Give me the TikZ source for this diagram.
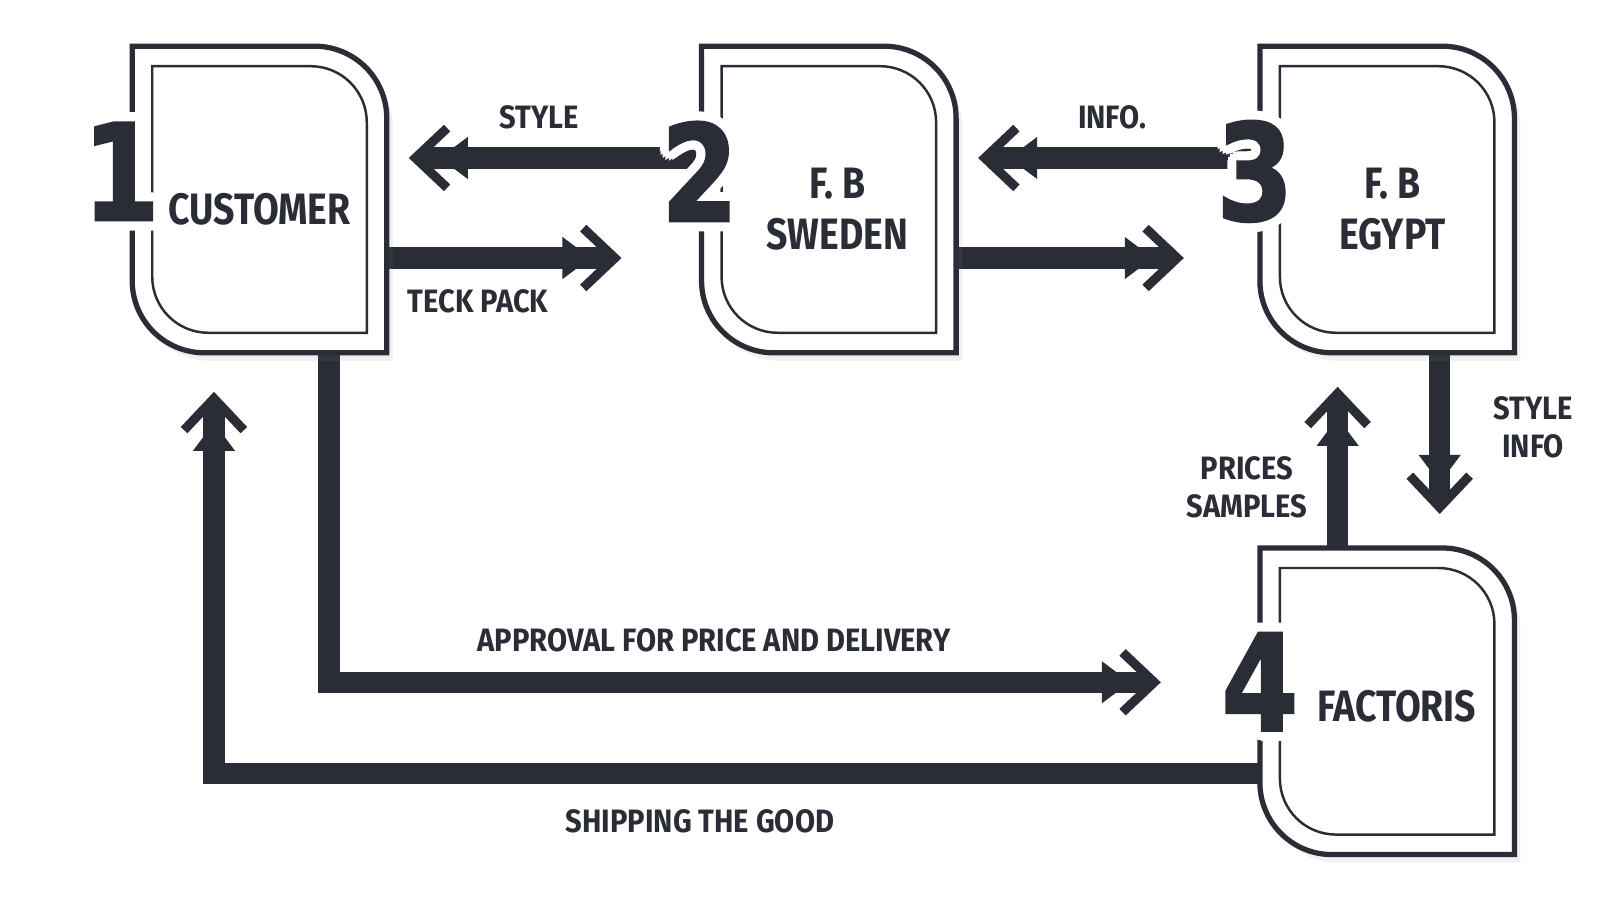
\documentclass[tikz,border=0pt]{standalone}
\usepackage{fontspec}
\setmainfont{Fira Sans}[FakeStretch=0.85]
\newfontfamily\lblfont{Fira Sans}[FakeStretch=0.9]
\newfontfamily\numfont{DejaVu Sans}[UprightFont={* Bold},FakeStretch=0.82,FakeBold=2]
\usepackage[copies]{contour}
\contourlength{2.6pt}
\usetikzlibrary{arrows.meta,shadows}
\definecolor{ink}{HTML}{2B2D36}
\tikzstyle{box} = [rectangle, minimum width=2.53cm, minimum height=3.05cm, inner sep=0pt]
\tikzstyle{boxouter} = [draw=ink, line width=1.5pt, fill=white, drop shadow={opacity=0.12, shadow xshift=0.6mm, shadow yshift=-0.8mm}]
\tikzstyle{boxinner} = [draw=ink, line width=0.7pt]
\tikzstyle{flow} = [draw=ink, line width=6pt, -{Triangle[length=8pt,width=12pt,line width=0pt,sep=-3.4pt] Straight Barb[length=9pt,width=17pt,line width=2.6pt]}]
\tikzstyle{title} = [text=ink, font=\bfseries\fontsize{12.5}{14.5}\selectfont, align=center, inner sep=0pt]
\tikzstyle{lbl} = [text=ink, font=\lblfont\bfseries\fontsize{9.2}{10.8}\selectfont, align=center, inner sep=0pt]
\tikzstyle{num} = [text=ink, font=\numfont\fontsize{38}{38}\selectfont, inner sep=0pt]
\newcommand{\docbox}[1]{%
  \draw[boxouter] (#1.north west) -- ([xshift=-7.2mm]#1.north east) arc[start angle=90,end angle=0,radius=7.2mm] -- (#1.south east) -- ([xshift=7.2mm]#1.south west) arc[start angle=270,end angle=180,radius=7.2mm] -- cycle;
  \draw[boxinner] ([shift={(2mm,-2mm)}]#1.north west) -- ([shift={(-7.6mm,-2mm)}]#1.north east) arc[start angle=90,end angle=0,radius=5.6mm] -- ([shift={(-2mm,2mm)}]#1.south east) -- ([shift={(7.6mm,2mm)}]#1.south west) arc[start angle=270,end angle=180,radius=5.6mm] -- cycle;
}

\begin{document}
\begin{tikzpicture}[x=0.01cm,y=0.01cm,node distance=5.69cm]
\useasboundingbox (0,0) rectangle (1600,900);
		\node[box](1) at (259.5,700.5){};
		\node[box,right of=1](2){};
		\node[box,right of=2,xshift=-1.1mm](3){};
		\node[box,below of=3,node distance=5.015cm](4){};
		\draw[flow] ([yshift=4.15mm]2.west) -- ([xshift=2.2mm,yshift=4.15mm]1.east);
		\draw[flow] ([yshift=-5.85mm]1.east) -- ([xshift=-8mm,yshift=-5.85mm]2.west);
		\draw[flow] ([yshift=4.15mm]3.west) -- ([xshift=2.2mm,yshift=4.15mm]2.east);
		\draw[flow] ([yshift=-5.85mm]2.east) -- ([xshift=-7.6mm,yshift=-5.85mm]3.west);
		\draw[flow] ([xshift=5.25mm]3.south) -- ([xshift=5.25mm,yshift=3.4mm]4.north);
		\draw[flow] ([xshift=-4.95mm]4.north) -- ([xshift=-4.95mm,yshift=-3.4mm]3.south);
		\draw[flow] ([xshift=6.95mm]1.south) |- ([xshift=-9.9mm,yshift=1.9mm]4.west);
		\draw[flow] ([yshift=-7.2mm]4.west) -| ([xshift=-4.55mm,yshift=-3.9mm]1.south);
		\docbox{1}
		\docbox{2}
		\docbox{3}
		\docbox{4}
		\node[title](t1) at ([yshift=-1mm]1.center){CUSTOMER};
		\node[title](t2) at ([xshift=0.85mm,yshift=-1mm]2.center){F. B\\SWEDEN};
		\node[title](t3) at ([xshift=0.55mm,yshift=-1mm]3.center){F. B\\EGYPT};
		\node[title](t4) at ([xshift=0.95mm,yshift=-0.5mm]4.center){FACTORIS};
		\node[num](n1) at ([xshift=-1.1mm,yshift=2.35mm]1.west){\contour{white}{1}};
		\node[num](n2) at ([xshift=-0.2mm,yshift=2.35mm]2.west){\contour{white}{2}};
		\node[num](n3) at ([xshift=-0.5mm,yshift=2.35mm]3.west){\contour{white}{3}};
		\node[num](n4) at ([yshift=1.5mm]4.west){\contour{white}{4}};
		\node[lbl](l1) at (539,783){STYLE};
		\node[lbl](l2) at (478,599){TECK PACK};
		\node[lbl](l3) at (1112,783){INFO.};
		\node[lbl](l4) at (1533,473){STYLE\\INFO};
		\node[lbl](l5) at (1247,412.5){PRICES\\SAMPLES};
		\node[lbl](l6) at (714,260){APPROVAL FOR PRICE AND DELIVERY};
		\node[lbl](l7) at (700,79){SHIPPING THE GOOD};
\end{tikzpicture}
\end{document}
